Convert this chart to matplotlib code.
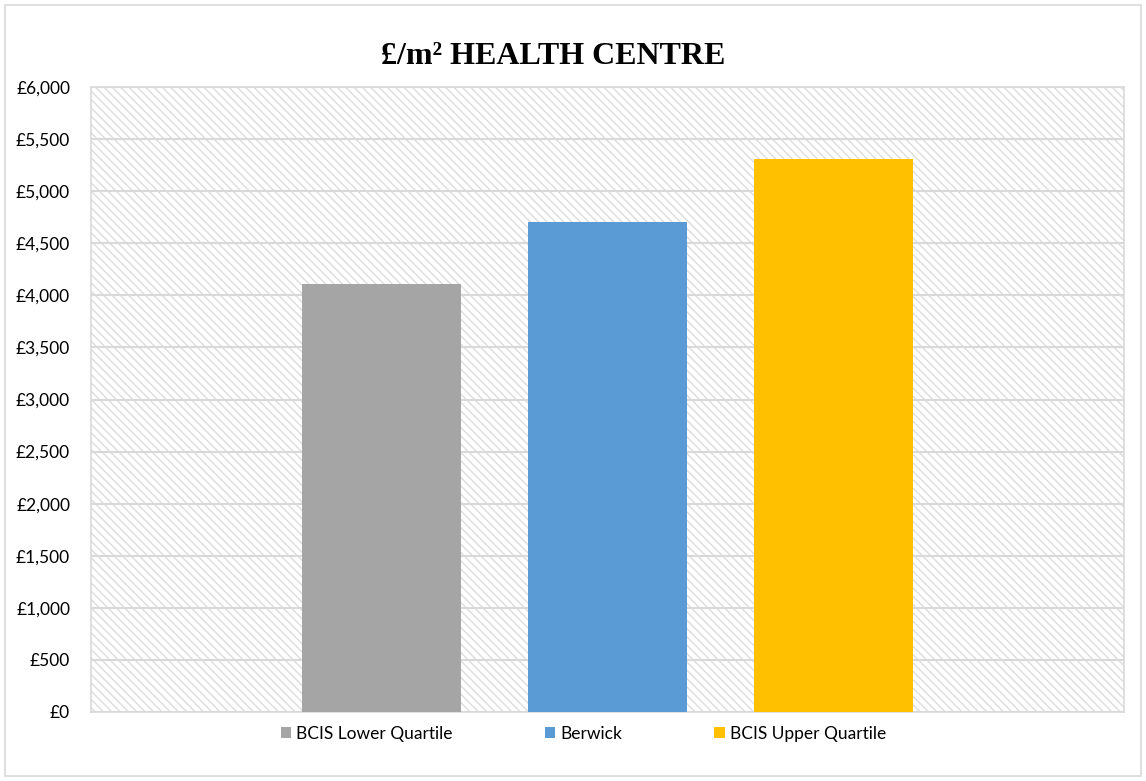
import matplotlib
matplotlib.use('Agg')

import matplotlib.pyplot as plt
from matplotlib.patches import Rectangle
from matplotlib.ticker import FuncFormatter, MultipleLocator

series = ["BCIS Lower Quartile", "Berwick", "BCIS Upper Quartile"]
values = [4110, 4705, 5310]
colors = ["#a5a5a5", "#5b9bd5", "#ffc000"]

plt.rcParams['font.family'] = ['Lato', 'DejaVu Sans']
plt.rcParams['hatch.linewidth'] = 1.0

fig = plt.figure(figsize=(11.46, 7.81), dpi=100)
ax = fig.add_axes([91 / 1146, 1 - 712 / 781, 1033 / 1146, 625 / 781])

# hatched plot area background
ax.add_patch(Rectangle((0, 0), 1, 1, transform=ax.transAxes, facecolor='white',
                       edgecolor='#dddddd', linewidth=0, hatch='\\\\\\\\', zorder=0))

# one category, three series side by side
bar_w = 159 / 1033
gap = 67 / 1033
positions = [0.5 - bar_w - gap, 0.5, 0.5 + bar_w + gap]
handles = []
for pos, val, col, name in zip(positions, values, colors, series):
    b = ax.bar(pos, val, width=bar_w, color=col, label=name, zorder=3)
    handles.append(b)

ax.set_xlim(0, 1)
ax.set_ylim(0, 6000)
ax.yaxis.set_major_locator(MultipleLocator(500))
ax.yaxis.set_major_formatter(FuncFormatter(lambda v, p: f"£{int(v):,}"))
ax.set_xticks([])
ax.tick_params(axis='y', length=0, labelsize=12.5, pad=15)
ax.grid(axis='y', color='#d9d9d9', linewidth=1.5, zorder=1)
ax.set_axisbelow(True)
for s in ax.spines.values():
    s.set_color('#d9d9d9')
    s.set_linewidth(1.2)

fig.text(553 / 1146, 1 - 57 / 781, "£/m² HEALTH CENTRE", ha='center', va='center',
         fontsize=23, fontweight='bold', family=['Liberation Serif', 'DejaVu Serif'])

fig.legend(handles=handles, labels=series, loc='center', ncol=3,
           bbox_to_anchor=(583.5 / 1146, 1 - 734 / 781), frameon=False, fontsize=12.5,
           handlelength=0.6, handleheight=0.6, handletextpad=0.3, columnspacing=5.3)

# outer chart border
fig.patches.append(Rectangle((5 / 1146, 5 / 781), 1 - 10 / 1146, 1 - 10 / 781,
                             transform=fig.transFigure, fill=False,
                             edgecolor='#d9d9d9', linewidth=1.2))

fig.savefig("out.png", dpi=100)
